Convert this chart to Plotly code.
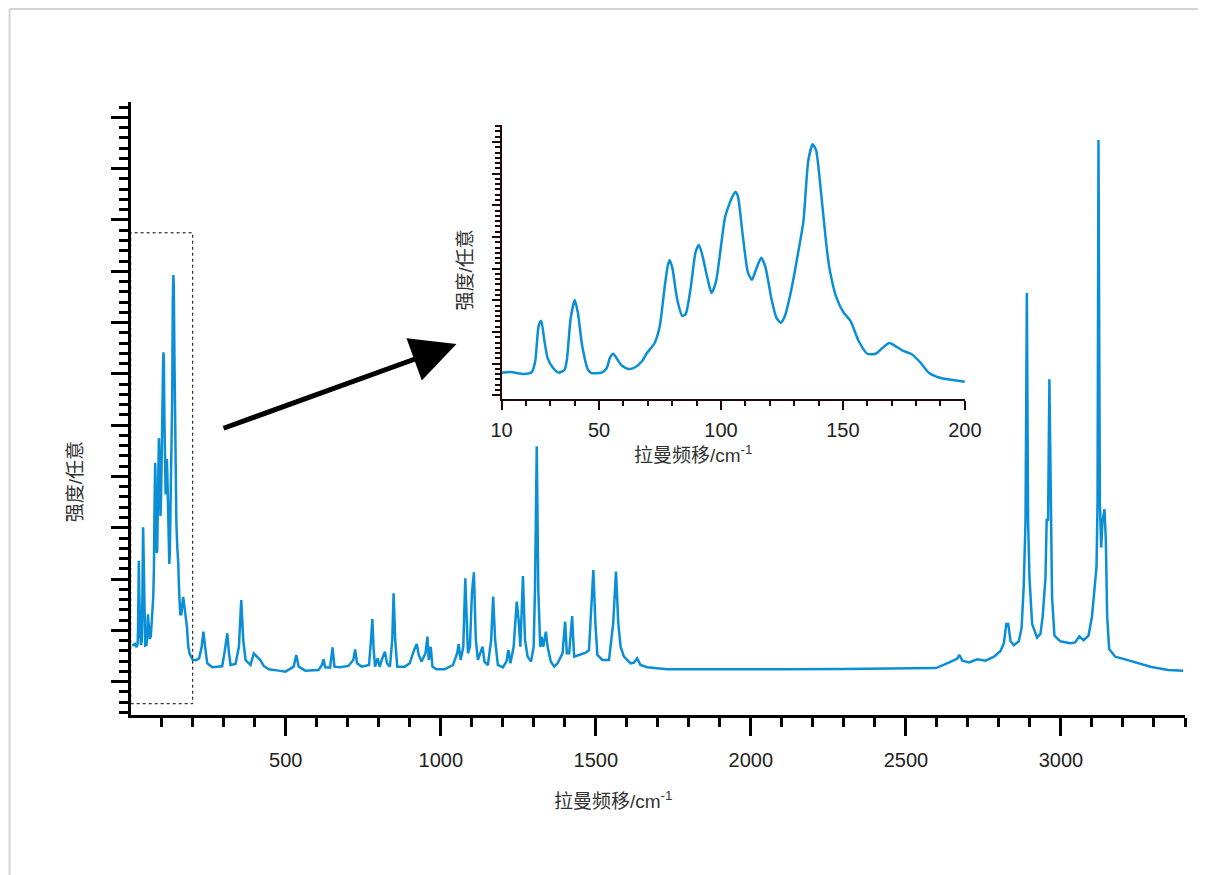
import plotly.graph_objects as go

# ---- data (intensity in arbitrary units) ----
# low-frequency region 10-200 cm-1 (shown in the inset and in the main plot)
low_shift = [10, 13.7, 19.2, 22.4, 23.8, 25.2, 26.3, 27.5, 28.9, 31.0, 33.3, 35.8, 36.8, 38.3, 40.0,
             41.3, 43.1, 45.5, 46.8, 51.0, 53.1, 54.4, 55.8, 57.2, 59.3, 62.0, 64.8, 67.5, 69.6,
             72.8, 74.9, 76.8, 78.2, 79.0, 80.1, 82.0, 84.1, 85.5, 87.5, 89.6, 90.9, 92.0, 94.5,
             96.1, 97.9, 99.7, 101.6, 103.1, 104.8, 105.9, 106.9, 108.9, 111.0, 112.7, 114.5,
             116.5, 118.2, 120.7, 122.7, 124.5, 126.2, 128.9, 131.7, 133.8, 135.8, 137.6, 139.0,
             141.1, 143.2, 144.5, 147.3, 150.3, 153.1, 156.5, 160.0, 163.4, 166.2, 169.0, 171.7,
             174.5, 177.9, 181.4, 185.5, 189.7, 194.5, 200.0]
low_int = [0.715, 0.736, 0.672, 0.736, 1.067, 2.187, 2.357, 1.76, 1.173, 0.875, 0.715, 0.80, 1.12,
           2.40, 3.008, 2.613, 1.547, 0.80, 0.704, 0.715, 0.853, 1.173, 1.312, 1.173, 0.939, 0.832,
           0.885, 1.067, 1.333, 1.653, 2.187, 3.36, 4.107, 4.267, 4.0, 3.04, 2.507, 2.56, 3.36,
           4.533, 4.747, 4.533, 3.68, 3.232, 3.573, 4.533, 5.60, 5.973, 6.293, 6.421, 6.293,
           5.067, 3.893, 3.648, 4.0, 4.341, 4.053, 3.04, 2.453, 2.293, 2.507, 3.36, 4.533, 5.493,
           7.413, 7.925, 7.733, 6.347, 4.747, 4.0, 3.093, 2.613, 2.347, 1.707, 1.312, 1.312,
           1.493, 1.653, 1.547, 1.408, 1.312, 1.067, 0.693, 0.555, 0.491, 0.427]

# first point of the full spectrum below 10 cm-1
start_shift = [5]
start_int = [0.70]

# 200-3400 cm-1
high_shift = [210, 220.6, 229, 234.5, 240, 247, 263, 295, 303, 311.6, 317, 322, 338, 349, 356.5, 363,
              370.5, 386.5, 397, 408, 418, 429, 445, 477, 499, 525.6, 534, 541.7, 563, 606, 616.6,
              622, 627, 643, 651, 657, 675.5, 702, 718, 723.7, 730, 745, 768.6, 775, 779.3, 783.6,
              788, 796.4, 803, 811.4, 820, 826.4, 836, 843.5, 847.8, 853, 859.6, 884, 900, 914,
              922.7, 929, 937.7, 950.6, 957, 961.3, 967.7, 973, 986, 1012.6, 1039.4, 1053, 1057.6,
              1064, 1072.6, 1079, 1087.6, 1094, 1100.4, 1106.8, 1113, 1119.7, 1128, 1134.6, 1141,
              1151.8, 1162.5, 1168.9, 1175.3, 1184, 1200, 1211.7, 1218, 1224.6, 1235, 1245, 1251,
              1256.6, 1265, 1271.6, 1280, 1291, 1299.5, 1303.8, 1309.5, 1314.4, 1320.7, 1325,
              1330.4, 1339, 1344.4, 1355, 1366, 1376.6, 1392.6, 1401, 1406.5, 1414, 1423.6, 1430,
              1446, 1467.5, 1478, 1485.7, 1492, 1498.6, 1505, 1521, 1542.5, 1556, 1565, 1572.4,
              1580, 1590.6, 1612, 1622.7, 1633.4, 1644, 1665.5, 1730, 1900, 2100, 2300, 2500,
              2597, 2640, 2666, 2672, 2682, 2704, 2730, 2757, 2784, 2805, 2816, 2823.6, 2830,
              2837.5, 2848, 2864, 2873, 2880, 2885.7, 2890, 2894, 2898.5, 2907, 2923, 2934, 2941,
              2950, 2954, 2958.5, 2962.7, 2967, 2971.3, 2979, 2998, 3030, 3046, 3059, 3073, 3089,
              3100, 3108, 3114.7, 3118, 3121, 3125.4, 3129.7, 3134, 3140.4, 3144.7, 3149, 3155.4,
              3175, 3207, 3239, 3292, 3346, 3394]
high_int = [0.42, 0.455, 0.68, 0.975, 0.68, 0.357, 0.28, 0.30, 0.585, 0.943, 0.553, 0.325, 0.345,
            0.68, 1.592, 0.81, 0.42, 0.325, 0.55, 0.49, 0.42, 0.306, 0.24, 0.215, 0.195, 0.293,
            0.52, 0.293, 0.215, 0.228, 0.325, 0.436, 0.28, 0.274, 0.67, 0.293, 0.28, 0.306, 0.423,
            0.63, 0.358, 0.293, 0.325, 0.813, 1.222, 0.618, 0.293, 0.455, 0.293, 0.455, 0.585,
            0.358, 0.293, 0.813, 1.722, 0.813, 0.293, 0.293, 0.358, 0.618, 0.735, 0.52, 0.39,
            0.553, 0.878, 0.423, 0.68, 0.293, 0.24, 0.24, 0.325, 0.553, 0.735, 0.423, 0.68, 2.015,
            0.553, 0.68, 1.722, 2.132, 0.813, 0.423, 0.553, 0.68, 0.39, 0.325, 0.813, 1.657, 0.813,
            0.325, 0.28, 0.39, 0.618, 0.358, 0.68, 1.56, 1.20, 0.68, 2.06, 0.813, 0.488, 0.39,
            0.68, 1.787, 4.59, 1.787, 0.68, 0.878, 0.68, 0.975, 0.68, 0.39, 0.293, 0.358, 0.553,
            1.17, 0.553, 0.553, 1.28, 0.488, 0.52, 0.566, 0.618, 1.462, 2.177, 1.137, 0.52, 0.423,
            0.423, 1.137, 2.145, 1.137, 0.68, 0.488, 0.358, 0.371, 0.455, 0.325, 0.28, 0.24,
            0.235, 0.24, 0.245, 0.25, 0.264, 0.376, 0.45, 0.525, 0.41, 0.376, 0.435, 0.41, 0.487,
            0.599, 0.749, 1.122, 1.122, 0.786, 0.711, 0.786, 1.047, 1.868, 3.136, 7.575, 3.136,
            2.017, 1.122, 0.86, 0.935, 1.271, 2.017, 3.173, 3.136, 5.896, 3.136, 1.644, 0.898,
            0.786, 0.749, 0.764, 0.883, 0.808, 0.898, 1.271, 1.793, 2.241, 3.509, 10.559, 3.509,
            2.614, 3.136, 3.36, 2.763, 1.271, 0.637, 0.487, 0.435, 0.376, 0.286, 0.227, 0.212]

inset_ticks = [10, 50, 100, 150, 200]
main_ticks = [500, 1000, 1500, 2000, 2500, 3000]
zoom_box_shift = [0, 200]
zoom_box_int = [-0.43, 8.75]

x_title = "拉曼频移/cm<sup>-1</sup>"
y_title = "强度/任意"

# ---- figure ----
W, H = 1206, 875
OFF = 8  # page offset of the figure (body margin)
ML, MT = 131 - OFF, 102 - OFF
PW, PH = 1059, 613
MR = W - ML - PW
MB = H - MT - PH


def px_to_paper(px, py):
    """page pixel -> paper coordinates"""
    fx, fy = px - OFF, py - OFF
    return (fx - ML) / PW, (MT + PH - fy) / PH


blue = "#0a8fd6"
font_family = "Liberation Sans, Arial, Noto Sans CJK SC, sans-serif"

main_x = start_shift + low_shift + high_shift
main_y = start_int + low_int + high_int

fig = go.Figure()
fig.add_trace(go.Scatter(x=main_x, y=main_y, mode="lines",
                         line=dict(color=blue, width=2.5), xaxis="x", yaxis="y",
                         showlegend=False, hoverinfo="skip"))
fig.add_trace(go.Scatter(x=low_shift, y=low_int, mode="lines",
                         line=dict(color=blue, width=2.5, shape="spline", smoothing=0.6),
                         xaxis="x2", yaxis="y2", showlegend=False, hoverinfo="skip"))

ix0, iy0 = px_to_paper(503.3, 399.4)
ix1, iy1 = px_to_paper(968.8, 125.2)

fig.update_layout(
    width=W, height=H,
    margin=dict(l=ML, r=MR, t=MT, b=MB, pad=0),
    paper_bgcolor="white", plot_bgcolor="white",
    font=dict(family=font_family, color="#222"),
    xaxis=dict(range=[1, 3400], showgrid=False, zeroline=False, showline=True,
               linecolor="black", linewidth=3, ticks="outside", ticklen=18, tickwidth=3,
               tickcolor="black", tickmode="array", tickvals=main_ticks,
               ticktext=[str(v) for v in main_ticks],
               tickfont=dict(size=20, color="#222"), ticklabelstandoff=7,
               minor=dict(ticks="outside", ticklen=9, tickwidth=3, tickcolor="black",
                          tickmode="linear", tick0=0, dtick=100),
               domain=[0, 1], anchor="y"),
    yaxis=dict(range=[-0.65, 11.3], showgrid=False, zeroline=False, showline=True,
               linecolor="black", linewidth=3, ticks="outside", ticklen=17, tickwidth=3,
               tickcolor="black", tick0=0, dtick=1, showticklabels=False,
               minor=dict(ticks="outside", ticklen=9, tickwidth=3, tickcolor="black",
                          tick0=0, dtick=0.2),
               domain=[0, 1], anchor="x"),
    xaxis2=dict(range=[10, 200], domain=[ix0, ix1], anchor="y2", showgrid=False,
                zeroline=False, showline=True, linecolor="#1e0808", linewidth=2,
                ticks="outside", ticklen=9, tickwidth=2, tickcolor="#1e0808",
                tickmode="array", tickvals=inset_ticks, ticktext=[str(v) for v in inset_ticks],
                tickfont=dict(size=20, color="#222"), ticklabelstandoff=3,
                minor=dict(ticks="outside", ticklen=5, tickwidth=2, tickcolor="#1e0808",
                           tickmode="linear", tick0=0, dtick=10)),
    yaxis2=dict(range=[-0.13, 8.53], domain=[iy0, iy1], anchor="x2", showgrid=False,
                zeroline=False, showline=True, linecolor="#1e0808", linewidth=2,
                ticks="outside", ticklen=8, tickwidth=2, tickcolor="#1e0808",
                tick0=0, dtick=1, showticklabels=False,
                minor=dict(ticks="outside", ticklen=4.5, tickwidth=2, tickcolor="#1e0808",
                           tick0=0, dtick=1 / 6)),
)

# dashed zoom box in the main plot
fig.add_shape(type="rect", xref="x", yref="y",
              x0=zoom_box_shift[0], x1=zoom_box_shift[1], y0=zoom_box_int[0], y1=zoom_box_int[1],
              line=dict(color="black", width=1, dash="dot"), layer="above")

# light border along the left and top edges of the figure
fx0, fy0 = px_to_paper(OFF + 1, OFF + 1)
fx1, fy1 = px_to_paper(OFF + W + 20, OFF + H + 20)
fig.add_shape(type="line", xref="paper", yref="paper", x0=fx0, x1=fx0, y0=fy1, y1=fy0,
              line=dict(color="#d4d4d4", width=2))
fig.add_shape(type="line", xref="paper", yref="paper", x0=fx0, x1=fx1, y0=fy0, y1=fy0,
              line=dict(color="#d4d4d4", width=2))

# arrow pointing to the inset
tipx, tipy = px_to_paper(458, 344)
fig.add_annotation(x=tipx, y=tipy, xref="paper", yref="paper", ax=-234.4, ay=84.8,
                   axref="pixel", ayref="pixel", text="", showarrow=True,
                   arrowhead=2, arrowsize=1.8, arrowwidth=5, arrowcolor="black", standoff=0)

# axis titles
title_font = dict(family=font_family, size=19, color="#333")
for (px, py, txt, ang) in [(615, 800, x_title, 0), (75, 482, y_title, -90),
                           (696, 454, x_title, 0), (467, 270, y_title, -90)]:
    ax_, ay_ = px_to_paper(px, py)
    fig.add_annotation(x=ax_, y=ay_, xref="paper", yref="paper", text=txt, showarrow=False,
                       textangle=ang, font=title_font, xanchor="center", yanchor="middle")

fig.write_html("out.html")
